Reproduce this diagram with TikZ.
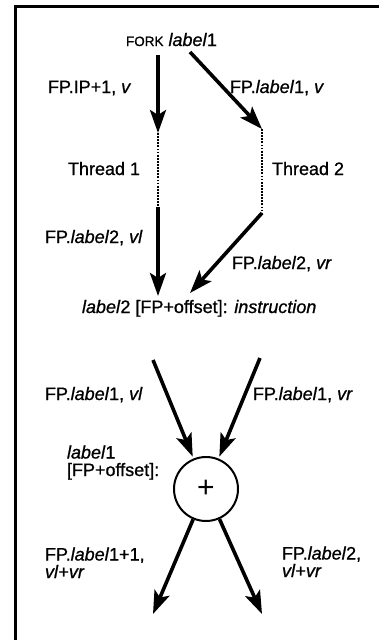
\documentclass[tikz,border=0pt]{standalone}
\usepackage{fontspec}
\setmainfont{Liberation Sans}[FakeBold=0.9]
\usetikzlibrary{arrows.meta}
\begin{document}
\begin{tikzpicture}[x=1pt,y=-1pt,
  txt/.style={anchor=base west,inner sep=0pt,outer sep=0pt,
    font=\fontsize{18}{17.5}\selectfont,align=left},
  flow/.style={line width=3.6pt,
    -{Stealth[length=23pt,width=16pt,inset=5pt]}},
  idle/.style={line width=2.6pt,dash pattern=on 1.8pt off 1.3pt},
  frameline/.style={line width=3pt}]
\useasboundingbox (0,0) rectangle (379,640);

% frame (top and left edges)
\draw[frameline] (379,6.5) -- (15.5,6.5) -- (15.5,640);

% ---- fork into two threads ----
\node[txt] (fork) at (126,46) {{\fontsize{13.5}{14}\selectfont FORK} \textit{label}1};
\coordinate (l0) at (158,55);
\coordinate (l1) at (158,133);
\coordinate (l2) at (158,207);
\coordinate (l3) at (158,296);
\coordinate (r0) at (190,52);
\coordinate (r1) at (262,129);
\coordinate (r2) at (262,213);
\coordinate (r3) at (190,293);

\draw[flow] (l0) -- (l1);
\draw[idle] (l1) -- (l2);
\draw[flow] (l2) -- (l3);
\draw[flow] (r0) -- (r1);
\draw[idle] (r1) -- (r2);
\draw[flow] (r2) -- (r3);

\node[txt] (lblA) at (48,93) {FP.IP+1, \textit{v}};
\node[txt] (lblB) at (230,93) {FP.\textit{label}1, \textit{v}};
\node[txt] (th1) at (68,175) {Thread 1};
\node[txt] (th2) at (272,175) {Thread 2};
\node[txt] (lblC) at (45,243) {FP.\textit{label}2, \textit{vl}};
\node[txt] (lblD) at (232,269) {FP.\textit{label}2, \textit{vr}};
\node[txt] (instr) at (82,313) {\textit{label}2 {[}FP+offset{]}: \textit{instruction}};

% ---- join node ----
\node[draw,circle,line width=2pt,minimum size=64pt,inner sep=0pt] (add) at (206,489) {};
\node[inner sep=0pt] (plus) at (add.center) {\fontsize{30}{30}\fontspec{Liberation Sans}+};
\coordinate (inL) at (153,360);
\coordinate (inR) at (260,358);
\coordinate (outL) at (153,614);
\coordinate (outR) at (262,614);

\draw[flow,shorten >=2pt] (inL) -- (add);
\draw[flow,shorten >=2pt] (inR) -- (add);
\draw[flow] (add) -- (outL);
\draw[flow] (add) -- (outR);

\node[txt] (lblE) at (45,400) {FP.\textit{label}1, \textit{vl}};
\node[txt] (lblF) at (253,400) {FP.\textit{label}1, \textit{vr}};
\node[txt] (addr) at (67,476) {\textit{label}1\\{[}FP+offset{]}:};
\node[txt] (lblG) at (45,578) {FP.\textit{label}1+1,\\\textit{vl}+\textit{vr}};
\node[txt] (lblH) at (282,577) {FP.\textit{label}2,\\\textit{vl}+\textit{vr}};
\end{tikzpicture}
\end{document}
